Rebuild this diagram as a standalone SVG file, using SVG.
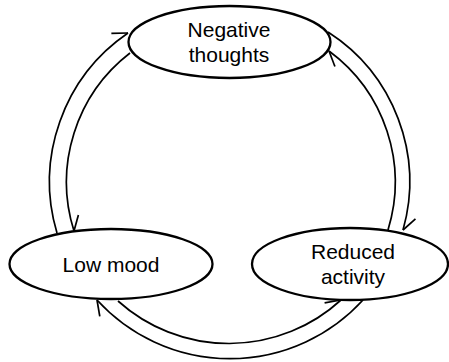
<svg xmlns="http://www.w3.org/2000/svg" width="449" height="362" viewBox="0 0 449 362">
<style>
.node{fill:#fff;stroke:#000;stroke-width:2.3}
.lbl{font-family:"Liberation Sans",Arial,Helvetica,sans-serif;font-size:21px;fill:#000;text-anchor:middle}
.arc{fill:none;stroke:#000;stroke-width:1.7;marker-end:url(#harpoon)}
</style>
<defs>
<marker id="harpoon" markerUnits="userSpaceOnUse" markerWidth="40" markerHeight="40" viewBox="-20 -20 40 40" refX="0" refY="0" orient="auto" overflow="visible">
<path d="M0,0 L-14,-9" fill="none" stroke="#000" stroke-width="1.7"/>
</marker>
</defs>
<g id="connectors">
<path class="arc" d="M57,233 A180,180 0 0 1 128,33"/>
<path class="arc" d="M130,53 A163,163 0 0 0 74,231"/>
<path class="arc" d="M328,32 A178,178 0 0 1 403,230"/>
<path class="arc" d="M388,230 A163,163 0 0 0 329,51"/>
<path class="arc" d="M118,301 A166,166 0 0 0 341,300"/>
<path class="arc" d="M363,300 A180,180 0 0 1 97,300"/>
</g>
<g id="negative-thoughts">
<ellipse class="node" cx="229.5" cy="42" rx="101" ry="36"/>
<text class="lbl" x="229" y="37">Negative</text>
<text class="lbl" x="229" y="62">thoughts</text>
</g>
<g id="low-mood">
<ellipse class="node" cx="111" cy="264" rx="101.5" ry="35"/>
<text class="lbl" x="111" y="272">Low mood</text>
</g>
<g id="reduced-activity">
<ellipse class="node" cx="350" cy="264" rx="98" ry="36"/>
<text class="lbl" x="353" y="259">Reduced</text>
<text class="lbl" x="353" y="284">activity</text>
</g>
</svg>
